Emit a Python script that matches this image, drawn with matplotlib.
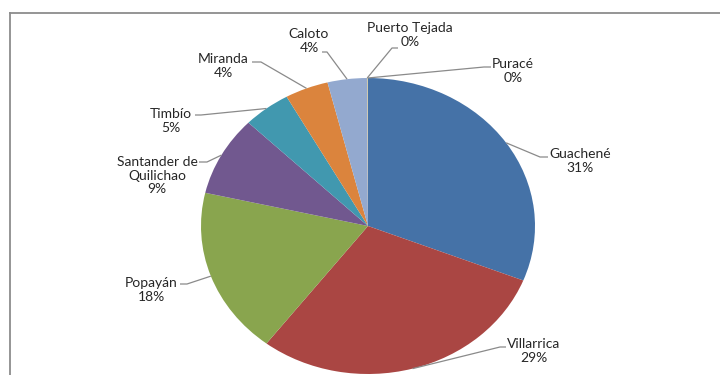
import numpy as np
import matplotlib
matplotlib.use("Agg")
from matplotlib import pyplot as plt
from matplotlib.lines import Line2D

municipios = ["Guachené", "Villarrica", "Popayán", "Santander de\nQuilichao",
              "Timbío", "Miranda", "Caloto", "Puerto Tejada", "Puracé"]
porcentaje = [31.0, 29.4, 18.2, 8.7, 4.6, 4.2, 3.8, 0.05, 0.05]
colores = ["#4572A7", "#AA4643", "#89A54E", "#71588F", "#4198AF",
           "#DB843D", "#93A9CF", "#D19392", "#B9CD96"]

# label layout in pixels: text centre, leader elbow, leader end
texto_px = [(580, 161), (534, 351), (151, 290), (157, 176), (171, 121),
            (223, 66), (309, 41), (410, 35), (513, 71)]
codo_px = [(540, 157), (500, 347), (187, 284), (207, 162), (201, 115),
           (261, 62), (327, 52), (392, 48), (484, 67)]
fin_px = [(548, 157), (506, 347), (180, 284), (199, 162), (195, 115),
          (252, 62), (322, 52), (398, 48), (491, 67)]

W, H = 720, 375
CX, CY = 368, 226      # pie centre in pixels
RX, RY = 167, 148      # pie radii in pixels (stretched)


def to_data(p):
    return (p[0] - CX) / RX, (CY - p[1]) / RY


plt.rcParams['font.family'] = ['Lato', 'DejaVu Sans']
fig = plt.figure(figsize=(W / 100, H / 100), dpi=100)
ax = fig.add_axes([0, 0, 1, 1])

wedges, _ = ax.pie(porcentaje, colors=colores, startangle=90, counterclock=False,
                   radius=1, wedgeprops=dict(linewidth=0))
ax.set_aspect('auto')
ax.set_xlim(-CX / RX, (W - CX) / RX)
ax.set_ylim(-(H - CY) / RY, CY / RY)
ax.axis('off')

for w, nombre, val, t, c, f in zip(wedges, municipios, porcentaje, texto_px, codo_px, fin_px):
    mid = np.deg2rad((w.theta1 + w.theta2) / 2)
    ex, ey = np.cos(mid), np.sin(mid)
    cx, cy = to_data(c)
    fx, fy = to_data(f)
    ax.plot([ex, cx, fx], [ey, cy, fy], color="#8a8a8a", lw=0.9,
            solid_capstyle='butt', zorder=3)
    tx, ty = to_data(t)
    ax.text(tx, ty, f"{nombre}\n{val:.0f}%", ha='center', va='center',
            fontsize=10, color="#262626", linespacing=1.15, zorder=4)

# chart area border
top = 1 - 12.5 / H
left = 10 / W
fig.add_artist(Line2D([left, left], [0, top], color="#8c8c8c", lw=1.3))
fig.add_artist(Line2D([left, 1], [top, top], color="#8c8c8c", lw=1.3))

fig.savefig("out.png", dpi=100)
